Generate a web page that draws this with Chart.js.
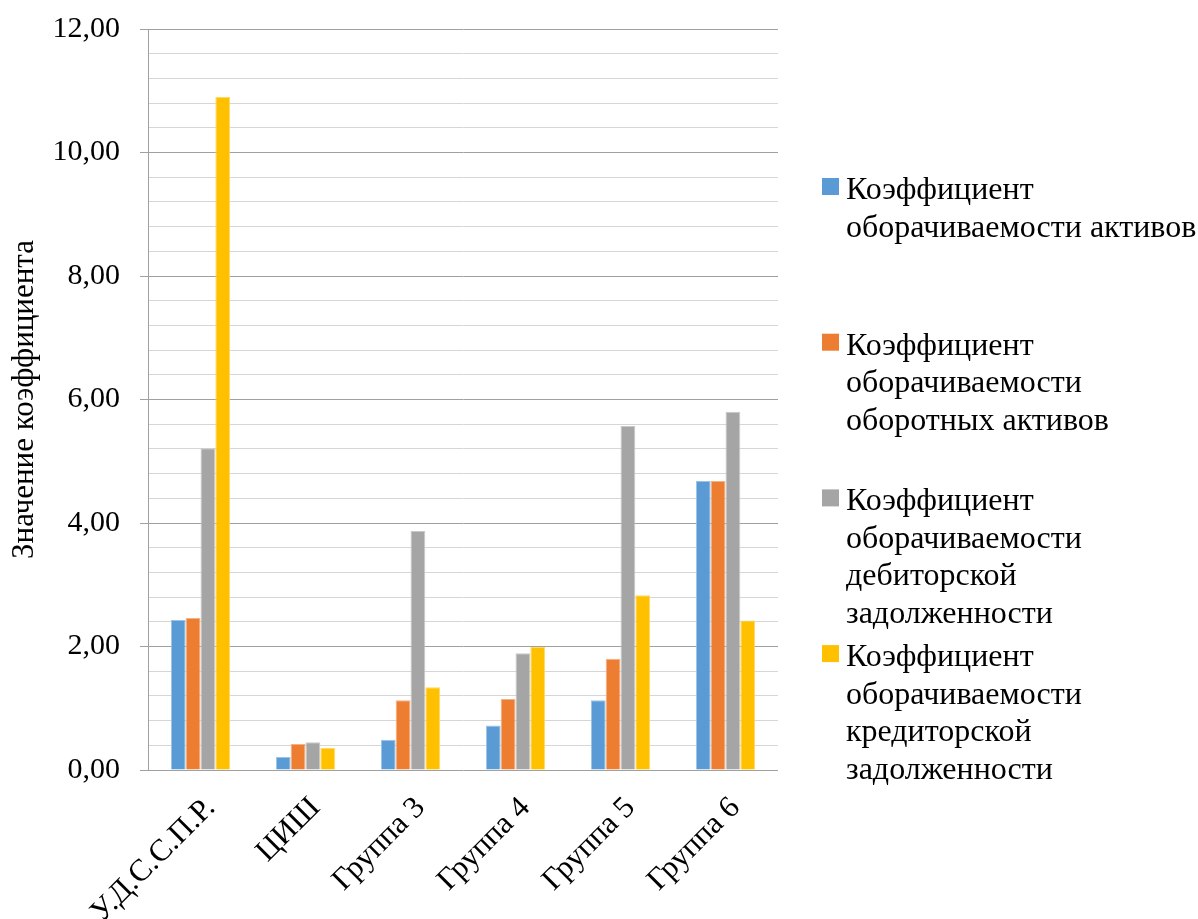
<!DOCTYPE html>
<html lang="ru">
<head>
<meta charset="utf-8">
<title>Коэффициенты оборачиваемости</title>
<script src="https://cdn.jsdelivr.net/npm/chart.js@4/dist/chart.umd.min.js"></script>
<style>
  html, body { margin: 0; padding: 0; background: #ffffff; }
  #wrap { width: 1198px; height: 919px; position: relative; }
  canvas { display: block; }
</style>
</head>
<body>
<div id="wrap"><canvas id="chart" width="1198" height="919"></canvas></div>
<script>
// Categories (groups of companies)
const categories = ['У.Д.С.С.П.Р.', 'ЦИШ', 'Группа 3', 'Группа 4', 'Группа 5', 'Группа 6'];

// Turnover ratios per group
const assetTurnover        = [2.43, 0.21, 0.49, 0.72, 1.13, 4.68];
const currentAssetTurnover = [2.46, 0.42, 1.13, 1.15, 1.80, 4.68];
const receivablesTurnover  = [5.21, 0.45, 3.87, 1.89, 5.57, 5.80];
const payablesTurnover     = [10.90, 0.36, 1.34, 1.99, 2.83, 2.42];

// Series names and how they are broken into lines in the legend
const seriesNames = [
  'Коэффициент оборачиваемости активов',
  'Коэффициент оборачиваемости оборотных активов',
  'Коэффициент оборачиваемости дебиторской задолженности',
  'Коэффициент оборачиваемости кредиторской задолженности'
];
const legendLines = [
  ['Коэффициент', 'оборачиваемости активов'],
  ['Коэффициент', 'оборачиваемости', 'оборотных активов'],
  ['Коэффициент', 'оборачиваемости', 'дебиторской', 'задолженности'],
  ['Коэффициент', 'оборачиваемости', 'кредиторской', 'задолженности']
];
const seriesColors = ['#5B9BD5', '#ED7D31', '#A5A5A5', '#FFC000'];
const seriesEdges  = ['#9cc3e6', '#f4b183', '#c9c9c9', '#ffd966'];

// Axis settings
const yMin = 0, yMax = 12, yMinorStep = 0.4, yMajorStep = 2;
const yTitle = 'Значение коэффициента';

const serif = "'Liberation Serif', 'Times New Roman', serif";

const isMajor = v => Math.abs(v / yMajorStep - Math.round(v / yMajorStep)) < 1e-6;

// Multi-line legend drawn to the right of the plot
const sideLegend = {
  id: 'sideLegend',
  afterDraw(chart) {
    const ctx = chart.ctx;
    const x0 = 822, box = 17, textX = 846;
    const firstBaseline = 199, itemGap = 155.7, lineH = 37.5;
    ctx.save();
    ctx.font = '32px ' + serif;
    ctx.textBaseline = 'alphabetic';
    ctx.textAlign = 'left';
    chart.data.datasets.forEach((ds, i) => {
      const base = firstBaseline + i * itemGap;
      ctx.fillStyle = ds.backgroundColor;
      ctx.fillRect(x0, base - 21, box, box);
      ctx.fillStyle = '#000000';
      legendLines[i].forEach((line, j) => {
        ctx.fillText(line, textX, base + j * lineH);
      });
    });
    ctx.restore();
  }
};

const datasets = [assetTurnover, currentAssetTurnover, receivablesTurnover, payablesTurnover]
  .map((values, i) => ({
    label: seriesNames[i],
    data: values,
    backgroundColor: seriesColors[i],
    borderColor: seriesEdges[i],
    borderWidth: { left: 1, right: 1, top: 1, bottom: 0 },
    categoryPercentage: 0.565,
    barPercentage: 1.0
  }));

new Chart(document.getElementById('chart'), {
  type: 'bar',
  data: { labels: categories, datasets },
  options: {
    responsive: false,
    animation: false,
    layout: { padding: { left: 0, right: 420, top: 29, bottom: 0 } },
    plugins: {
      legend: { display: false },
      tooltip: { enabled: false }
    },
    scales: {
      x: {
        grid: { display: false },
        border: { display: false },
        ticks: {
          color: '#000000',
          font: { family: serif, size: 31 },
          minRotation: 45,
          maxRotation: 45,
          padding: 12,
          labelOffset: 10
        },
        afterFit(scale) { scale.height = 149; }
      },
      y: {
        min: yMin,
        max: yMax,
        border: { display: true, color: '#a0a0a0', width: 1 },
        grid: {
          color: ctx => isMajor(ctx.tick.value) ? '#a0a0a0' : '#d6d6d6',
          tickColor: ctx => isMajor(ctx.tick.value) ? '#a0a0a0' : 'rgba(0,0,0,0)',
          lineWidth: 1,
          tickLength: 8
        },
        ticks: {
          stepSize: yMinorStep,
          color: '#000000',
          font: { family: serif, size: 30 },
          padding: 20,
          autoSkip: false,
          callback: v => isMajor(v) ? v.toFixed(2).replace('.', ',') : ''
        },
        title: {
          display: true,
          text: yTitle,
          color: '#000000',
          font: { family: serif, size: 31 },
          padding: { top: 6, bottom: 0 }
        },
        afterFit(scale) {
          scale.width = 148;
          scale.paddingTop = 0;
          scale.paddingBottom = 0;
        }
      }
    }
  },
  plugins: [sideLegend]
});
</script>
</body>
</html>
